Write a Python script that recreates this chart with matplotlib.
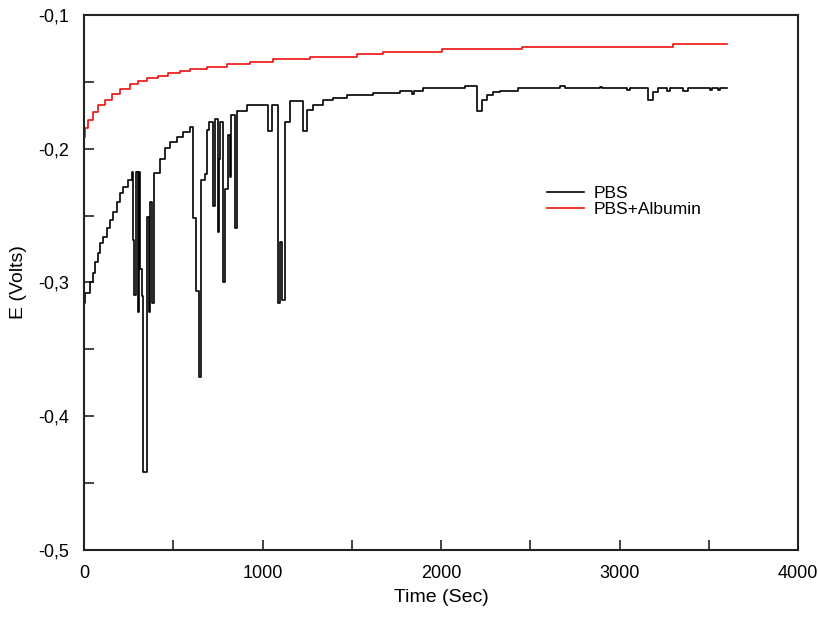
import numpy as np
import matplotlib
matplotlib.use("Agg")
import matplotlib.pyplot as plt
from matplotlib.ticker import MultipleLocator, FuncFormatter

# PBS + Albumin (red) step curve: time (s), potential (V)
t_alb = [0, 6, 22, 50, 78, 118, 157, 202, 258, 303, 353, 415, 471, 538, 594,
         690, 801, 930, 1059, 1266, 1529, 1675, 2006, 2454, 3300, 3600]
e_alb = [-0.191, -0.1845, -0.1785, -0.1725, -0.167, -0.1635, -0.159, -0.1555,
         -0.1518, -0.149, -0.1473, -0.1454, -0.1431, -0.1416, -0.1404, -0.1386,
         -0.1366, -0.1349, -0.1331, -0.1312, -0.1292, -0.1274, -0.1254, -0.1237,
         -0.1219, -0.1219]

# PBS (black) step curve with the early potential spikes
t_pbs = [0, 8, 31, 48, 62, 81, 90, 107, 129, 146, 163, 185, 202, 219, 246,
         269, 276, 282, 290, 300, 306, 312, 326, 332, 351, 355, 365, 372, 380,
         390, 426, 454, 482, 521, 555, 594, 611, 630, 645, 655, 680, 690, 700,
         723, 734, 751, 756, 762, 779, 790, 807, 818, 826, 835, 846, 857, 913,
         1003, 1031, 1053, 1087, 1098, 1109, 1126, 1154, 1227, 1249, 1283,
         1339, 1395, 1473, 1619, 1770, 1837, 1849, 1899, 2134, 2202, 2230,
         2258, 2291, 2330, 2431, 2667, 2695, 2891, 2900, 3042, 3059, 3160,
         3188, 3216, 3266, 3283, 3356, 3384, 3507, 3518, 3552, 3563, 3600]
e_pbs = [-0.315, -0.308, -0.300, -0.293, -0.285, -0.278, -0.2706, -0.266,
         -0.259, -0.253, -0.247, -0.240, -0.233, -0.2285, -0.2235, -0.2175,
         -0.268, -0.309, -0.2175, -0.322, -0.2175, -0.29, -0.31, -0.442,
         -0.43, -0.251, -0.322, -0.24, -0.315, -0.218, -0.208, -0.1995,
         -0.1947, -0.191, -0.1872, -0.1835, -0.252, -0.306, -0.371, -0.223,
         -0.219, -0.186, -0.180, -0.243, -0.178, -0.262, -0.208, -0.18,
         -0.300, -0.23, -0.19, -0.221, -0.175, -0.175, -0.259, -0.172, -0.167,
         -0.167, -0.187, -0.167, -0.315, -0.27, -0.313, -0.180, -0.164,
         -0.187, -0.171, -0.167, -0.1635, -0.162, -0.160, -0.158, -0.157,
         -0.159, -0.157, -0.1548, -0.153, -0.1717, -0.1635, -0.160, -0.1577,
         -0.157, -0.1548, -0.153, -0.1548, -0.1535, -0.1548, -0.1558, -0.1548,
         -0.1635, -0.1577, -0.1548, -0.157, -0.1548, -0.157, -0.1548, -0.156,
         -0.1548, -0.156, -0.1548, -0.1548]

plt.rcParams['font.family'] = ['Liberation Sans', 'DejaVu Sans']

fig = plt.figure(figsize=(8.18, 6.17), dpi=100)
ax = fig.add_axes([0.1027, 0.1086, 0.8729, 0.8671])

ax.plot(t_pbs, e_pbs, drawstyle='steps-post', color='black', lw=1.2, label='PBS')
ax.plot(t_alb, e_alb, drawstyle='steps-post', color='#ee1111', lw=1.2, label='PBS+Albumin')

ax.set_xlim(0, 4000)
ax.set_ylim(-0.5, -0.1)
ax.xaxis.set_major_locator(MultipleLocator(1000))
ax.xaxis.set_minor_locator(MultipleLocator(500))
ax.yaxis.set_major_locator(MultipleLocator(0.1))
ax.yaxis.set_minor_locator(MultipleLocator(0.05))
ax.yaxis.set_major_formatter(FuncFormatter(lambda v, p: f"{v:.1f}".replace('.', ',')))

ax.tick_params(which='both', direction='in', length=7, width=1.2, color='#222222',
               labelsize=13)
ax.tick_params(axis='y', pad=11)
ax.tick_params(axis='x', pad=11)
for s in ax.spines.values():
    s.set_linewidth(1.5)
    s.set_color('#222222')

ax.set_xlabel('Time (Sec)', fontsize=14, labelpad=5)
ax.set_ylabel('E (Volts)', fontsize=14, labelpad=8)

ax.legend(loc='upper left', bbox_to_anchor=(0.627, 0.71), frameon=False,
          fontsize=12.5, handlelength=2.1, labelspacing=0.08, handletextpad=0.55)

fig.savefig('out.png', dpi=100)
